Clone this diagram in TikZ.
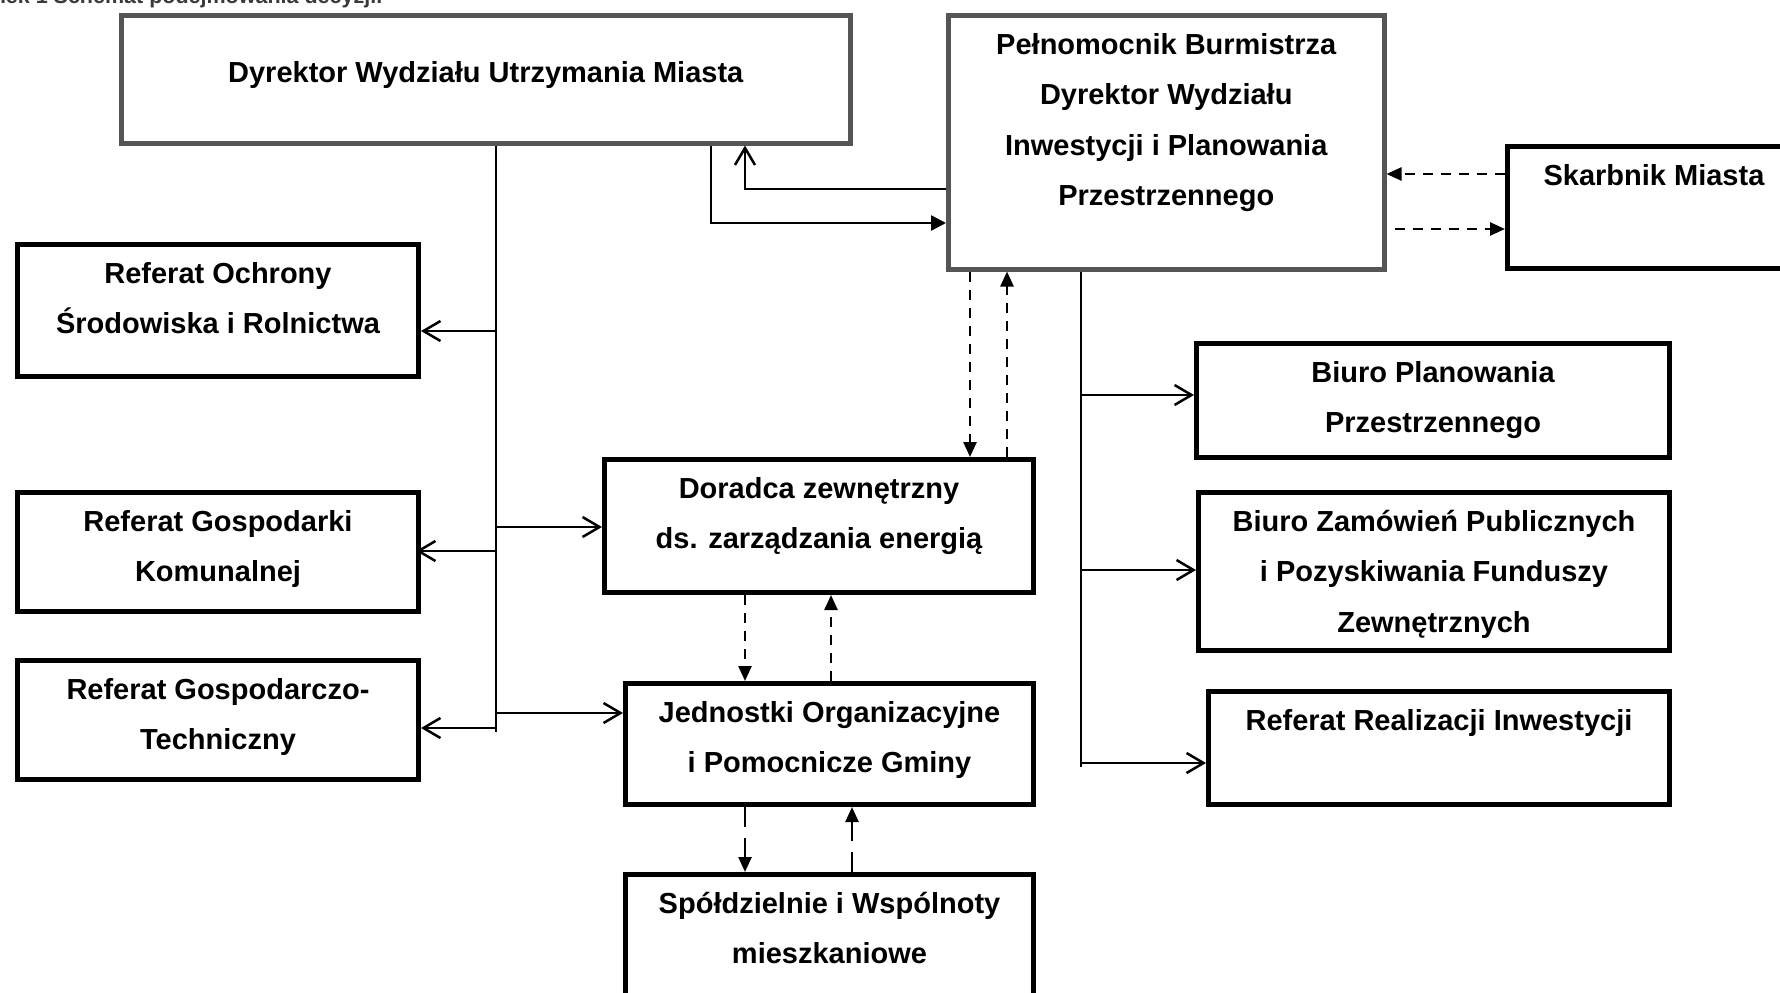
\documentclass[tikz,border=0pt]{standalone}
\usepackage{fontspec}
\setmainfont{Liberation Sans}
\usetikzlibrary{arrows.meta}

\definecolor{framegray}{HTML}{555555}
\definecolor{captiongray}{HTML}{3A3A3A}
\newcommand{\boxfont}{\fontsize{29pt}{50.5pt}\selectfont\bfseries}

\tikzset{
  unitbox/.style={draw=black, line width=5pt, rectangle, inner sep=0pt, anchor=north west},
  graybox/.style={unitbox, draw=framegray, line width=4.5pt},
  txt/.style={font=\boxfont, align=center, anchor=north, inner sep=0pt},
  trunk/.style={line width=2pt},
  link/.style={line width=2.5pt, -{Straight Barb[length=17pt,width=20pt]}},
  flink/.style={line width=2.5pt, -{Triangle[length=15pt,width=15pt]}},
  dlink/.style={line width=2.5pt, dash pattern=on 10pt off 8pt, -{Triangle[length=15pt,width=13pt]}},
  longdlink/.style={dlink, dash pattern=on 20pt off 11pt}
}

\begin{document}
\begin{tikzpicture}[x=1pt,y=-1pt]
  \useasboundingbox (0,0) rectangle (1780,993);
  \clip (0,0) rectangle (1780,993);

  % Caption, cut at the top edge
  \node[font=\fontsize{21.5pt}{26pt}\selectfont\bfseries, text=captiongray, anchor=base west, inner sep=0pt]
    (cap) at (-60,4) {Rysunek 1 Schemat podejmowania decyzji.};

  % Top row
  \node[graybox, minimum width=729pt, minimum height=128pt] (dyr) at (119,13) {};
  \node[txt] (dyrT) at ([yshift=-48pt]dyr.north) {Dyrektor Wydziału Utrzymania Miasta};

  \node[graybox, minimum width=436pt, minimum height=254pt] (peln) at (946,13) {};
  \node[txt] (pelnT) at ([yshift=-20pt]peln.north) {Pełnomocnik Burmistrza\\Dyrektor Wydziału\\Inwestycji i Planowania\\Przestrzennego};

  \node[unitbox, minimum width=293pt, minimum height=122pt] (skarb) at (1505,144) {};
  \node[txt] (skarbT) at ([yshift=-20pt]skarb.north) {Skarbnik Miasta};

  % Left column
  \node[unitbox, minimum width=401pt, minimum height=132pt] (ochr) at (15,242) {};
  \node[txt] (ochrT) at ([yshift=-20pt]ochr.north) {Referat Ochrony\\Środowiska i Rolnictwa};

  \node[unitbox, minimum width=401pt, minimum height=119pt] (gosp) at (15,490) {};
  \node[txt] (gospT) at ([yshift=-20pt]gosp.north) {Referat Gospodarki\\Komunalnej};

  \node[unitbox, minimum width=401pt, minimum height=119pt] (tech) at (15,658) {};
  \node[txt] (techT) at ([yshift=-20pt]tech.north) {Referat Gospodarczo-\\Techniczny};

  % Middle column
  \node[unitbox, minimum width=429pt, minimum height=133pt] (dor) at (602,457) {};
  \node[txt] (dorT) at ([yshift=-20pt]dor.north) {Doradca zewnętrzny\\ds. zarządzania energią};

  \node[unitbox, minimum width=408pt, minimum height=121pt] (jedn) at (623,681) {};
  \node[txt] (jednT) at ([yshift=-20pt]jedn.north) {Jednostki Organizacyjne\\i Pomocnicze Gminy};

  \node[unitbox, minimum width=408pt, minimum height=140pt] (spol) at (623,872) {};
  \node[txt] (spolT) at ([yshift=-20pt]spol.north) {Spółdzielnie i Wspólnoty\\mieszkaniowe};

  % Right column
  \node[unitbox, minimum width=473pt, minimum height=114pt] (biuroP) at (1194,341) {};
  \node[txt] (biuroPT) at ([yshift=-20pt]biuroP.north) {Biuro Planowania\\Przestrzennego};

  \node[unitbox, minimum width=471pt, minimum height=158pt] (biuroZ) at (1196,490) {};
  \node[txt] (biuroZT) at ([yshift=-20pt]biuroZ.north) {Biuro Zamówień Publicznych\\i Pozyskiwania Funduszy\\Zewnętrznych};

  \node[unitbox, minimum width=461pt, minimum height=113pt] (real) at (1206,689) {};
  \node[txt] (realT) at ([yshift=-20pt]real.north) {Referat Realizacji Inwestycji};

  % Left trunk below Dyrektor
  \coordinate (lx) at (496,0);
  \coordinate (lbot) at (496,732);
  \draw[trunk] (dyr.south -| lx) -- (lbot);
  \coordinate (l1) at (496,331);
  \coordinate (l2) at (496,551);
  \coordinate (l3) at (496,728);
  \coordinate (l4) at (496,527);
  \coordinate (l5) at (496,713);
  \draw[link] (l1) -- (l1 -| ochr.east);
  \draw[link] (l2) -- ([xshift=-5pt]l2 -| gosp.east);
  \draw[link] (l3) -- (l3 -| tech.east);
  \draw[link] (l4) -- (l4 -| dor.west);
  \draw[link] (l5) -- (l5 -| jedn.west);

  % Between Dyrektor and Pelnomocnik
  \coordinate (k1) at (711,223);
  \coordinate (k2) at (745,189);
  \draw[flink] (dyr.south -| k1) |- (k1 -| peln.west);
  \draw[link] (k2 -| peln.west) -| (dyr.south -| k2);

  % Skarbnik
  \coordinate (s1) at (0,174);
  \coordinate (s2) at (0,229);
  \draw[dlink] (s1 -| skarb.west) -- (s1 -| peln.east);
  \draw[dlink] ([xshift=8pt]s2 -| peln.east) -- (s2 -| skarb.west);

  % Dashed links down the middle
  \coordinate (d1) at (970,0);
  \coordinate (d2) at (1007,0);
  \draw[dlink] (peln.south -| d1) -- (dor.north -| d1);
  \draw[dlink] (dor.north -| d2) -- (peln.south -| d2);
  \coordinate (d3) at (745,0);
  \coordinate (d4) at (831,0);
  \draw[dlink] (dor.south -| d3) -- (jedn.north -| d3);
  \draw[dlink] (jedn.north -| d4) -- (dor.south -| d4);
  \coordinate (d5) at (852,0);
  \draw[longdlink] (jedn.south -| d3) -- (spol.north -| d3);
  \draw[longdlink] (spol.north -| d5) -- (jedn.south -| d5);

  % Right trunk below Pelnomocnik
  \coordinate (rx) at (1081,0);
  \coordinate (rbot) at (1081,767);
  \draw[trunk] (peln.south -| rx) -- (rbot);
  \coordinate (r1) at (1081,395);
  \coordinate (r2) at (1081,570);
  \coordinate (r3) at (1081,763);
  \draw[link] (r1) -- (r1 -| biuroP.west);
  \draw[link] (r2) -- (r2 -| biuroZ.west);
  \draw[link] (r3) -- (r3 -| real.west);
\end{tikzpicture}
\end{document}
